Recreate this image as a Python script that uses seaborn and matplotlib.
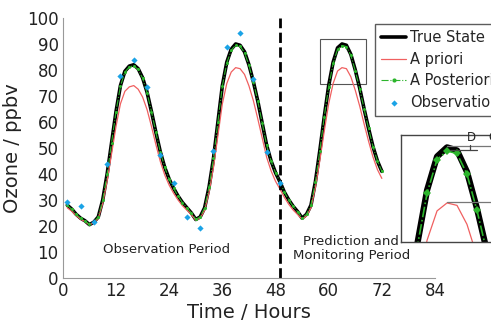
import numpy as np
import pandas as pd
import seaborn as sns
import matplotlib.pyplot as plt
from matplotlib.patches import Rectangle

# hourly model values, t = 1..72
hours = list(range(1, 73))
true_state = [28, 26.5, 24.5, 23, 22, 20.5, 21.5, 23.5, 30, 40,
              52, 64, 74, 79.5, 81.5, 82, 80.5, 77, 71.5, 64,
              56, 48.5, 42.5, 38, 34.5, 31.5, 29, 27, 25, 22.5,
              23.5, 27, 35, 46, 60, 74, 83, 88, 90, 89.5,
              87, 82, 75.5, 68, 59.5, 51, 45, 40.5, 37, 33,
              30, 27.5, 25.5, 23, 24.5, 28, 37, 49, 62, 74,
              83, 88.5, 90, 89.5, 86, 80, 73, 65, 57.5, 50.5,
              45, 41]
a_priori = [27, 25.7, 24, 22.6, 21.7, 20.4, 21.3, 23, 28.7, 37.4,
            47.8, 58.3, 67, 71.8, 73.5, 74, 72.6, 69.6, 64.8, 58.3,
            51.3, 44.8, 39.6, 35.7, 32.6, 30, 27.8, 26.1, 24.4, 22.2,
            23, 26, 33, 42.6, 54.8, 67, 74.8, 79.2, 80.9, 80.5,
            78.3, 73.9, 68.2, 61.2, 53.8, 46.4, 41.2, 37.2, 34.2, 31,
            28.3, 26.1, 24.4, 22.6, 23.9, 27, 34.8, 45.2, 56.5, 67,
            74.8, 79.6, 80.9, 80.5, 77.4, 72.2, 66.1, 59.2, 52.6, 46.5,
            41.7, 38.3]
a_posteriori = [28, 26.4, 24.5, 23, 22, 20.6, 21.5, 23.5, 30, 40,
                52, 64, 73.8, 79.2, 81.2, 81.6, 80.2, 76.8, 71.3, 64,
                56, 48.5, 42.5, 38, 34.5, 31.5, 29, 27, 25, 22.6,
                23.5, 27, 35, 46, 60, 73.8, 82.7, 87.6, 89.5, 89.1,
                86.7, 81.8, 75.4, 68, 59.5, 51, 45, 40.5, 37, 33,
                30, 27.5, 25.5, 23.1, 24.5, 28, 37, 49, 62, 73.6,
                82.5, 88, 89.4, 89, 85.6, 79.7, 72.8, 65, 57.5, 50.5,
                45, 41]

obs_hours = [1, 4, 7, 10, 13, 16, 19, 22, 25, 28, 31, 34, 37, 40, 43, 46, 49]
obs_values = [29.3, 27.7, 21.5, 44, 77.8, 84, 73.6, 47.3, 36.5, 23.3,
              19.2, 49, 89, 94.2, 76.5, 48.5, 36.5]

x_ticks = [0, 12, 24, 36, 48, 60, 72, 84]
y_ticks = [0, 10, 20, 30, 40, 50, 60, 70, 80, 90, 100]

model = pd.DataFrame({"hour": hours, "true": true_state,
                      "prior": a_priori, "post": a_posteriori})
obs = pd.DataFrame({"hour": obs_hours, "value": obs_values})

sns.set_style("white")
plt.rcParams["font.family"] = ["DejaVu Sans"]

c_true = "black"
c_prior = "#f06060"
c_post = "#2cb52c"
c_obs = "#1aa3e6"

fig = plt.figure(figsize=(4.91, 3.21), dpi=100)
ax = fig.add_axes([0.128, 0.134, 0.758, 0.81])

def draw_series(a, lw_true, ms_post, mk_post, lw_post):
    sns.lineplot(data=model, x="hour", y="true", ax=a, color=c_true,
                 lw=lw_true, label="True State", estimator=None)
    sns.lineplot(data=model, x="hour", y="prior", ax=a, color=c_prior,
                 lw=0.9, label="A priori", estimator=None)
    sns.lineplot(data=model, x="hour", y="post", ax=a, color=c_post,
                 lw=lw_post, linestyle="-.", marker=mk_post, markersize=ms_post,
                 markeredgewidth=0, label="A Posteriori", estimator=None)

draw_series(ax, 2.6, 2.2, "o", 0.8)
sns.scatterplot(data=obs, x="hour", y="value", ax=ax, color=c_obs,
                marker="D", s=10, linewidth=0, label="Observations", zorder=5)

ax.axvline(49, color="black", ls="--", lw=2)
ax.add_patch(Rectangle((58.0, 74.5), 10.4, 17.5, fill=False,
                       edgecolor="#555555", lw=0.8))

ax.text(23.5, 10.8, "Observation Period", ha="center", va="center",
        fontsize=9.5, color="#222222")
ax.text(65.1, 11.3, "Prediction and\nMonitoring Period", ha="center",
        va="center", fontsize=9.5, color="#222222", linespacing=1.1)

ax.set_xlim(0, 84)
ax.set_ylim(0, 100)
ax.set_xticks(x_ticks)
ax.set_yticks(y_ticks)
ax.tick_params(length=0, labelsize=12, colors="#222222", pad=3)
ax.set_xlabel("Time / Hours", fontsize=14, color="#222222", labelpad=2)
ax.set_ylabel("Ozone / ppbv", fontsize=14, color="#222222", labelpad=4)
for side in ["top", "right"]:
    ax.spines[side].set_visible(False)
for side in ["left", "bottom"]:
    ax.spines[side].set_color("#999999")
    ax.spines[side].set_linewidth(0.8)

leg = ax.legend(loc="upper left", bbox_to_anchor=(0.84, 0.975), fontsize=10.5,
                frameon=True, fancybox=False, handlelength=1.7,
                borderaxespad=0, labelspacing=0.45, handletextpad=0.3)
leg.get_frame().set_edgecolor("#333333")
leg.get_frame().set_linewidth(1.0)
for h in leg.legend_handles[2:3]:
    h.set_markersize(3)

# zoomed inset of the last peak
ax_in = fig.add_axes([0.817, 0.246, 0.195, 0.333])
draw_series(ax_in, 4.5, 4.2, "D", 1.2)
ax_in.get_legend().remove()
ax_in.set_xlim(58.4, 68.0)
ax_in.set_ylim(74.5, 92)
ax_in.set_xticks([])
ax_in.set_yticks([])
ax_in.set_xlabel("")
ax_in.set_ylabel("")
for s in ax_in.spines.values():
    s.set_color("#444444")
    s.set_linewidth(1.0)
ax_in.plot([63, 68], [90.3, 90.3], color="#777777", lw=0.9)
ax_in.plot([63, 68], [81, 81], color="#777777", lw=0.9)
ax_in.plot([63.3, 66.0], [89.6, 89.6], color="#444444", lw=0.9)
ax_in.plot([65.3, 65.3], [89.6, 90.4], color="#444444", lw=0.9)
ax_in.text(65.4, 90.5, "D", fontsize=8.5, ha="center", va="bottom")
ax_in.text(67.6, 90.5, "G", fontsize=8.5, ha="center", va="bottom")

fig.savefig("out.png", dpi=100)
